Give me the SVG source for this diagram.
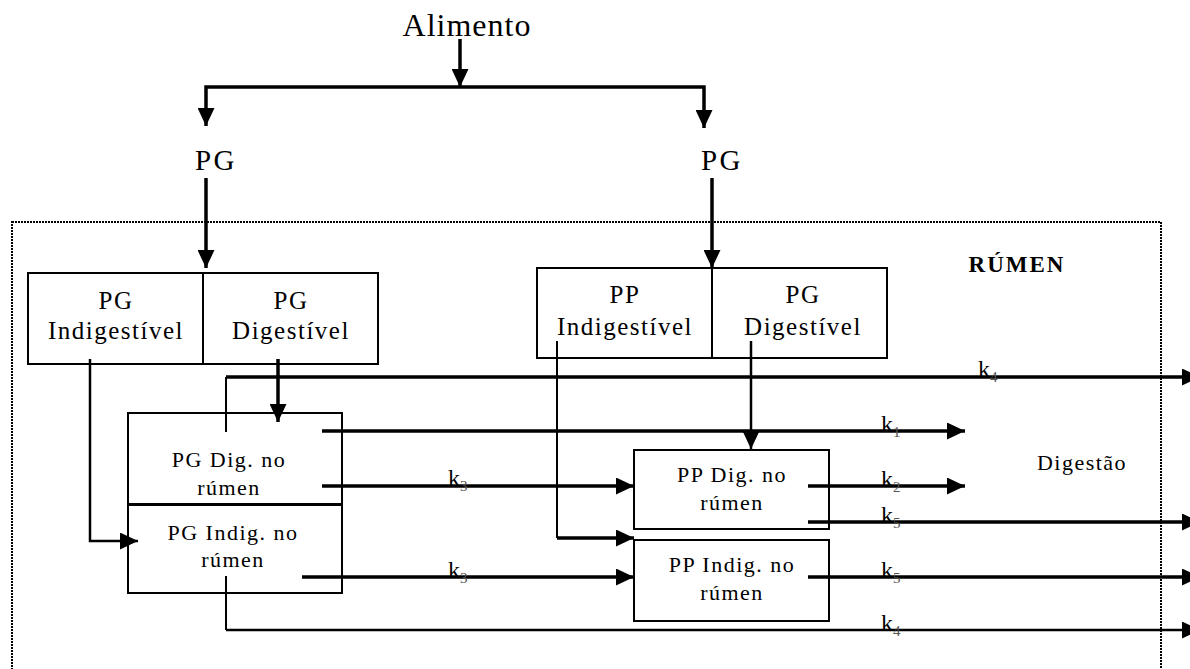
<svg xmlns="http://www.w3.org/2000/svg" width="1190" height="669" viewBox="0 0 1190 669">
<style>
text{font-family:"Liberation Serif","Times New Roman",serif;fill:#000}
.big{font-size:32px;letter-spacing:1px}
.top{font-size:29px;letter-spacing:2.5px}
.bx{font-size:25px;letter-spacing:1.5px}
.sm{font-size:22px;letter-spacing:1.5px}
.rum{font-size:23px;font-weight:bold;letter-spacing:2px}
.k{font-size:24px}
.sub{font-size:15px;fill:#555}
.box{fill:none;stroke:#000;stroke-width:2}
.thick{fill:none;stroke:#000;stroke-width:3.5}
.thin{fill:none;stroke:#000;stroke-width:2}
.mid{fill:none;stroke:#000;stroke-width:2.5}
.dot{fill:none;stroke:#000;stroke-width:2;stroke-dasharray:2 1}
</style>
<defs>
<marker id="ah" markerUnits="userSpaceOnUse" markerWidth="18" markerHeight="17" refX="18" refY="8.5" orient="auto">
<path d="M0,0 L18,8.5 L0,17 Z" fill="#000"/>
</marker>
</defs>
<rect width="1190" height="669" fill="#fff"/>
<rect id="rumen-area" class="dot" x="12" y="222" width="1149" height="470"/>
<text class="big" x="467" y="36" text-anchor="middle">Alimento</text>
<g id="pg-left"><text class="top" x="216" y="170" text-anchor="middle">PG</text></g>
<g id="pg-right"><text class="top" x="722" y="170" text-anchor="middle">PG</text></g>
<g id="rumen-label"><text class="rum" x="1017" y="272" text-anchor="middle">RÚMEN</text></g>
<g id="digestao"><text class="sm" x="1082" y="470" text-anchor="middle">Digestão</text></g>
<g id="pg-box">
<rect class="box" x="28" y="273" width="350" height="91"/>
<line class="box" x1="203" y1="273" x2="203" y2="364"/>
<text class="bx" x="116" y="309" text-anchor="middle">PG</text>
<text class="bx" x="116" y="339" text-anchor="middle">Indigestível</text>
<text class="bx" x="291" y="309" text-anchor="middle">PG</text>
<text class="bx" x="291" y="339" text-anchor="middle">Digestível</text>
</g>
<g id="pp-box">
<rect class="box" x="537" y="268" width="350" height="90"/>
<line class="box" x1="712" y1="268" x2="712" y2="358"/>
<text class="bx" x="625" y="303" text-anchor="middle">PP</text>
<text class="bx" x="625" y="335" text-anchor="middle">Indigestível</text>
<text class="bx" x="803" y="303" text-anchor="middle">PG</text>
<text class="bx" x="803" y="335" text-anchor="middle">Digestível</text>
</g>
<g id="pg-dig-rumen">
<rect class="box" x="128" y="413" width="214" height="91"/>
<text class="sm" x="229" y="467" text-anchor="middle">PG Dig. no</text>
<text class="sm" x="229" y="495" text-anchor="middle">rúmen</text>
</g>
<g id="pg-indig-rumen">
<rect class="box" x="128" y="505" width="214" height="88"/>
<text class="sm" x="233" y="540" text-anchor="middle">PG Indig. no</text>
<text class="sm" x="233" y="567" text-anchor="middle">rúmen</text>
</g>
<g id="pp-dig-rumen">
<rect class="box" x="634" y="450" width="195" height="79"/>
<text class="sm" x="732" y="482" text-anchor="middle">PP Dig. no</text>
<text class="sm" x="732" y="510" text-anchor="middle">rúmen</text>
</g>
<g id="pp-indig-rumen">
<rect class="box" x="634" y="540" width="195" height="81"/>
<text class="sm" x="732" y="572" text-anchor="middle">PP Indig. no</text>
<text class="sm" x="732" y="600" text-anchor="middle">rúmen</text>
</g>
<g id="connectors">
<path class="thick" d="M460,39 V87" marker-end="url(#ah)"/>
<path class="thick" d="M460,87 H206 V126" marker-end="url(#ah)"/>
<path class="thick" d="M460,87 H704 V128" marker-end="url(#ah)"/>
<path class="thick" d="M206,178 V268" marker-end="url(#ah)"/>
<path class="thick" d="M712,178 V268" marker-end="url(#ah)"/>
<path class="mid" d="M90,359 V541 H138" marker-end="url(#ah)"/>
<path class="thick" d="M278,359 V422" marker-end="url(#ah)"/>
<path class="thin" d="M226,432 V377"/>
<path class="thick" d="M226,377 H1200" marker-end="url(#ah)"/>
<path class="thick" d="M322,431 H965" marker-end="url(#ah)"/>
<path class="thick" d="M322,486 H634" marker-end="url(#ah)"/>
<path class="thick" d="M302,577 H634" marker-end="url(#ah)"/>
<path class="thin" d="M557,341 V538"/>
<path class="thick" d="M557,538 H634" marker-end="url(#ah)"/>
<path class="mid" d="M751,341 V449" marker-end="url(#ah)"/>
<path class="thick" d="M808,486 H965" marker-end="url(#ah)"/>
<path class="thick" d="M808,522 H1200" marker-end="url(#ah)"/>
<path class="thick" d="M808,577 H1200" marker-end="url(#ah)"/>
<path class="thin" d="M226,576 V630"/>
<path class="mid" d="M226,630 H1200" marker-end="url(#ah)"/>
<text class="k" x="978" y="377">k<tspan class="sub" dy="5">4</tspan></text>
<text class="k" x="881" y="432">k<tspan class="sub" dy="5">1</tspan></text>
<text class="k" x="448" y="486">k<tspan class="sub" dy="5">3</tspan></text>
<text class="k" x="881" y="487">k<tspan class="sub" dy="5">2</tspan></text>
<text class="k" x="881" y="523">k<tspan class="sub" dy="5">5</tspan></text>
<text class="k" x="448" y="578">k<tspan class="sub" dy="5">3</tspan></text>
<text class="k" x="881" y="578">k<tspan class="sub" dy="5">5</tspan></text>
<text class="k" x="881" y="631">k<tspan class="sub" dy="5">4</tspan></text>
</g>
</svg>
